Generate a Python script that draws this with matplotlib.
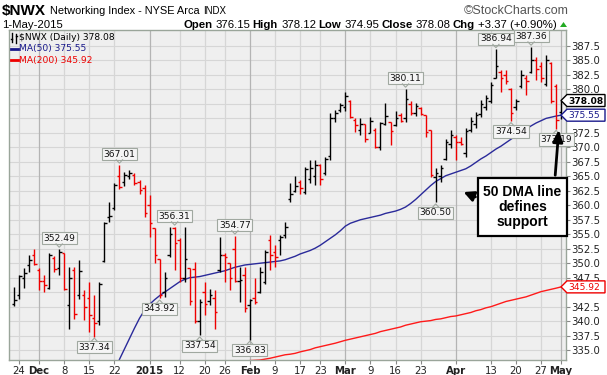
import matplotlib
matplotlib.use("Agg")
import matplotlib.pyplot as plt
import numpy as np
from matplotlib.transforms import Affine2D, ScaledTranslation
from matplotlib.patches import Polygon, Rectangle
from matplotlib.lines import Line2D

# ---------------- data ----------------
bar_idx = list(range(-1, 109))  # trading-day index, 0 = 24-Nov-2014, 108 = 1-May-2015

opens = [342.9, 344.5, 347.4, 349.7, 351.5, 348.9, 346.9, 345.8, 350.9, 349.1,
         351.7, 342.8, 348.8, 344.5, 344.5, 344.0, 340.5, 340.0, 350.3, 358.0,
         359.5, 365.0, 364.0, 365.0, 365.2, 364.0, 363.0, 360.0, 356.0, 350.8,
         345.0, 351.5, 356.0, 354.0, 347.5, 349.1, 349.0, 340.0, 345.0, 343.5,
         344.0, 348.8, 351.5, 350.0, 352.5, 347.0, 348.0, 342.8, 344.0, 345.0,
         346.8, 354.0, 352.0, 354.0, 354.8, 361.0, 362.5, 364.0, 362.3, 364.5,
         365.0, 367.0, 365.5, 368.5, 375.0, 376.5, 377.0, 378.0, 374.8, 373.0,
         374.0, 372.5, 373.0, 370.0, 374.0, 374.4, 373.8, 375.5, 375.0, 377.5,
         376.0, 376.8, 375.5, 373.0, 364.8, 365.0, 368.0, 370.5, 371.8, 371.0,
         369.0, 373.0, 374.0, 375.8, 377.0, 378.0, 382.0, 383.0, 382.5, 380.0,
         377.0, 380.5, 382.0, 383.0, 385.0, 384.0, 381.0, 384.5, 380.5, 376.15]
highs = [345.9, 347.9, 349.1, 351.4, 352.5, 349.1, 347.9, 351.7, 351.3, 352.49,
         351.7, 349.4, 349.4, 350.5, 345.3, 346.8, 344.5, 346.8, 357.2, 360.6,
         363.8, 367.01, 365.8, 366.1, 365.5, 364.4, 363.5, 361.8, 356.0, 350.8,
         348.5, 356.3, 356.31, 354.3, 356.3, 349.1, 350.2, 343.9, 346.8, 345.6,
         345.3, 354.6, 351.7, 350.0, 354.77, 349.4, 349.4, 343.9, 347.4, 349.4,
         352.3, 354.8, 353.1, 354.8, 357.1, 363.8, 365.0, 364.3, 366.6, 367.8,
         367.8, 367.2, 368.4, 375.9, 376.4, 377.6, 379.6, 378.2, 375.0, 375.0,
         374.1, 375.3, 373.3, 374.4, 377.6, 374.4, 376.3, 375.9, 380.11, 378.0,
         377.6, 377.0, 375.6, 373.0, 366.4, 367.0, 371.5, 373.0, 372.1, 371.8,
         373.3, 375.3, 376.1, 378.2, 379.0, 381.3, 386.94, 383.3, 383.3, 380.2,
         378.4, 383.3, 382.5, 387.36, 385.6, 384.8, 385.9, 384.8, 381.0, 378.12]
lows = [342.6, 343.9, 345.8, 348.5, 349.7, 345.3, 345.1, 345.6, 348.5, 347.9,
        345.3, 338.7, 340.4, 343.9, 340.2, 338.2, 337.34, 339.3, 350.2, 357.2,
        359.2, 362.8, 363.4, 364.6, 363.5, 362.0, 358.0, 354.6, 350.0, 343.92,
        344.2, 351.1, 348.8, 346.8, 346.8, 342.8, 339.6, 337.54, 341.0, 342.8,
        338.7, 348.5, 346.8, 345.3, 346.8, 343.3, 341.6, 336.83, 343.0, 344.8,
        346.5, 348.8, 349.4, 351.4, 354.3, 360.6, 362.3, 361.9, 362.0, 363.8,
        363.5, 363.5, 365.2, 367.8, 374.4, 376.1, 376.3, 375.0, 372.7, 372.1,
        371.0, 372.4, 369.8, 369.5, 373.8, 370.4, 373.6, 374.4, 374.4, 375.6,
        375.4, 375.6, 371.8, 364.9, 360.50, 364.0, 367.8, 369.8, 367.8, 370.4,
        368.4, 372.7, 373.3, 375.3, 376.4, 377.6, 381.9, 379.6, 381.0, 374.54,
        376.4, 380.2, 379.0, 382.8, 381.6, 381.3, 380.5, 377.6, 373.19, 374.95]
closes = [343.6, 347.8, 348.3, 350.6, 349.8, 346.9, 346.2, 351.4, 349.0, 352.0,
          345.6, 347.5, 341.3, 348.7, 342.5, 341.0, 339.6, 346.5, 357.0, 358.1,
          363.5, 363.1, 365.2, 365.6, 363.9, 362.6, 358.6, 356.9, 351.4, 344.5,
          347.4, 355.0, 353.5, 347.5, 350.8, 343.5, 340.0, 343.3, 342.9, 344.5,
          341.6, 351.4, 351.0, 347.4, 346.9, 347.1, 342.2, 343.6, 343.3, 348.5,
          352.0, 351.4, 351.0, 354.6, 356.2, 362.0, 363.4, 363.0, 366.2, 366.5,
          367.0, 364.5, 368.0, 375.0, 376.0, 377.3, 378.9, 375.3, 373.8, 374.0,
          371.4, 374.5, 370.1, 374.2, 375.4, 372.8, 375.0, 374.6, 378.4, 376.0,
          377.2, 375.8, 372.7, 365.2, 365.5, 366.5, 371.0, 372.2, 371.0, 370.6,
          372.8, 374.5, 375.6, 377.5, 378.5, 380.8, 384.0, 382.0, 381.5, 376.0,
          378.0, 382.5, 381.5, 385.0, 383.5, 382.0, 385.0, 378.0, 374.71, 378.08]

nan = float("nan")
ma50 = [nan] * 20 + [
    331.5, 333.4, 335.2, 337.0, 338.8, 340.5, 341.9, 342.9, 343.7, 344.4,
    345.0, 345.6, 346.2, 346.8, 347.2, 347.5, 347.6, 347.7, 347.9, 348.1,
    348.3, 348.5, 348.7, 349.0, 349.3, 349.5, 349.7, 349.8, 349.9, 350.0,
    350.1, 350.2, 350.3, 350.4, 350.6, 350.9, 351.2, 351.6, 351.9, 352.2,
    352.6, 353.1, 353.7, 354.3, 354.9, 355.6, 356.4, 356.9, 357.2, 357.5,
    357.7, 357.9, 358.1, 358.3, 358.6, 358.8, 359.0, 359.3, 359.7, 360.3,
    361.0, 361.8, 362.6, 363.4, 364.1, 364.6, 365.1, 365.4, 365.7, 366.0,
    366.3, 366.8, 367.4, 368.0, 368.5, 369.1, 369.7, 370.2, 370.8, 371.4,
    372.0, 372.5, 373.1, 373.7, 374.2, 374.6, 375.0, 375.2, 375.4, 375.55]
ma200 = [nan] * 44 + [
    332.8, 333.0, 333.1, 333.2, 333.25, 333.3, 333.45, 333.6, 333.8, 334.0,
    334.2, 334.3, 334.45, 334.7, 334.9, 335.1, 335.4, 335.6, 335.8, 336.0,
    336.2, 336.45, 336.7, 336.9, 337.1, 337.3, 337.5, 337.7, 337.9, 338.2,
    338.4, 338.6, 338.8, 339.0, 339.3, 339.5, 339.7, 339.9, 340.0, 340.1,
    340.3, 340.4, 340.6, 340.8, 340.9, 341.1, 341.3, 341.5, 341.8, 342.0,
    342.3, 342.5, 342.8, 343.1, 343.4, 343.6, 343.8, 344.0, 344.2, 344.5,
    344.8, 345.1, 345.3, 345.5, 345.7, 345.92]

tick_idx = [0, 4, 9, 14, 19, 26, 32, 37, 41, 46, 51, 56, 60, 65, 70, 75, 80, 87, 94, 99, 104, 108]
tick_lbl = ["24", "Dec", "8", "15", "22", "2015", "12", "20", "26", "Feb", "9", "17",
            "23", "Mar", "9", "16", "23", "Apr", "13", "20", "27", "May"]
month_lbl = {"Dec", "2015", "Feb", "Mar", "Apr", "May"}

hi_marks = [(8, 352.49), (20, 367.01), (31, 356.31), (43, 354.77), (77, 380.11), (95, 386.94), (102, 387.36)]
lo_marks = [(15, 337.34), (28, 343.92), (36, 337.54), (46, 336.83), (83, 360.50), (98, 374.54), (107, 373.19)]

last_close, last_ma50, last_ma200 = 378.08, 375.55, 345.92
hidden_y = {377.5, 375.0, 345.0}   # axis labels covered by the value boxes

# ---------------- figure ----------------
W, H = 607, 375
fig = plt.figure(figsize=(W / 100, H / 100), dpi=100)
fig.patch.set_facecolor("white")

L, R, T, B = 9, 566, 30, 360
ax = fig.add_axes([L / W, 1 - B / H, (R - L) / W, (B - T) / H])
ax.set_facecolor("#efefef")
ax.set_xlim(-2.0, 108.96)
ax.set_ylim(333.3, 390.25)
for s in ax.spines.values():
    s.set_color("#9aa59a")
    s.set_linewidth(1.0)

FONT = "DejaVu Sans"
yt = np.arange(335.0, 388.0, 2.5)
ax.set_yticks(yt)
ax.set_yticklabels(["" if round(v, 1) in hidden_y else "%.1f" % v for v in yt],
                   fontsize=7.3, family=FONT, color="#222222")
ax.yaxis.tick_right()
ax.tick_params(axis="y", length=3, width=0.8, color="#888888", pad=1)
for v in yt:
    ax.axhline(v, color="#d6d6d6", lw=0.8, zorder=0.5)

for i, lb in zip(tick_idx, tick_lbl):
    c = "#b4b4b4" if lb in month_lbl else "#d6d6d6"
    ax.axvline(i, color=c, lw=0.9, zorder=0.5)
ax.set_xticks(tick_idx)
ax.set_xticklabels(tick_lbl, fontsize=7.3, family=FONT, color="#222222")
for t, lb in zip(ax.get_xticklabels(), tick_lbl):
    if lb in month_lbl:
        t.set_fontweight("bold")
ax.tick_params(axis="x", length=3, width=0.8, color="#888888", pad=1.0)

# OHLC bars
tk = 0.5
prev = None
for i, o, h, l, c in zip(bar_idx, opens, highs, lows, closes):
    col = "#000000" if (prev is None or c >= prev) else "#ee0000"
    ax.vlines(i, l, h, color=col, lw=1.0, zorder=3)
    ax.hlines(o, i - tk, i, color=col, lw=1.0, zorder=3)
    ax.hlines(c, i, i + tk, color=col, lw=1.0, zorder=3)
    prev = c

ax.plot(bar_idx, ma50, color="#2a2a9a", lw=1.0, zorder=2)
ax.plot(bar_idx, ma200, color="#ff1a1a", lw=1.0, zorder=2)


def px_at(x, y):
    return Affine2D() + ScaledTranslation(x, y, ax.transData)


def mark(i, v, above):
    off = 10.5 if above else -10.5
    ax.annotate("%.2f" % v, xy=(i, v), xytext=(0, off * 0.72), textcoords="offset points",
                ha="center", va="center", fontsize=6.6, family=FONT, color="#111111", zorder=8,
                annotation_clip=False,
                bbox=dict(boxstyle="square,pad=0.18", fc="#f5f5f5", ec="#a0a8a0", lw=0.8))
    s = 1 if above else -1
    tri = Polygon([(-3.5, s * 5.3), (0, s * 1.5), (3.5, s * 5.3)], closed=False, fill=False,
                  ec="#a0a8a0", lw=0.8, transform=px_at(i, v), zorder=8, clip_on=False)
    ax.add_patch(tri)


for i, v in hi_marks:
    mark(i, v, True)
for i, v in lo_marks:
    mark(i, v, False)


def side_box(v, text, ec, tc, bold):
    tr = Affine2D() + ScaledTranslation(1.0, v, ax.get_yaxis_transform())
    poly = Polygon([(-5, 0), (1, 6), (39, 6), (39, -6), (1, -6)], closed=True,
                   fc="white", ec=ec, lw=1.0, transform=tr, zorder=20, clip_on=False)
    ax.add_patch(poly)
    ax.text(2.5, -0.5, text, transform=tr, ha="left", va="center", fontsize=6.6, family=FONT,
            color=tc, fontweight="bold" if bold else "normal", zorder=21, clip_on=False)


side_box(last_close, "%.2f" % last_close, "#000000", "#000000", True)
side_box(last_ma50, "%.2f" % last_ma50, "#1a1a8c", "#1a1a8c", False)
side_box(last_ma200, "%.2f" % last_ma200, "#ee0000", "#ee0000", False)


def fy(y):
    return H - y


pix = Affine2D()  # figure pixels

# legend inside plot
fp = dict(fontsize=6.6, family=FONT, va="center", ha="left")
fig.text(19 / W, fy(38) / H, "$NWX (Daily) %.2f" % last_close, color="#000000", **fp)
fig.text(19 / W, fy(49) / H, "MA(50) %.2f" % last_ma50, color="#1a1a8c", **fp)
fig.text(19 / W, fy(60) / H, "MA(200) %.2f" % last_ma200, color="#ee0000", **fp)
for (x0, x1, y, c) in [(11, 18, 49, "#1a1a8c"), (11, 18, 60, "#ee0000")]:
    fig.add_artist(Line2D([x0, x1], [fy(y), fy(y)], color=c, lw=2.0, transform=pix))
for xs, ys in [([12, 12], [33, 42]), ([11, 12], [39, 39]), ([16, 16], [34, 43]), ([16, 17], [36, 36])]:
    fig.add_artist(Line2D(xs, [fy(y) for y in ys], color="#000000", lw=1.0, transform=pix))

# header texts
LS = "Liberation Sans"
fig.text(2 / W, fy(11) / H, "$NWX", fontsize=11, fontweight="bold", family=LS, va="center")
fig.text(50 / W, fy(11) / H, "Networking Index - NYSE Arca", fontsize=7.9, family=LS, va="center")
fig.text(203 / W, fy(11.5) / H, "INDX", fontsize=7.0, family=LS, va="center")
fig.text(569 / W, fy(11) / H, "\u00a9StockCharts.com", fontsize=9, family=LS, va="center",
         ha="right", color="#555555")
fig.text(2 / W, fy(24.5) / H, "1-May-2015", fontsize=8.2, family=LS, va="center")

row = [("Open", True), ("376.15", False), ("High", True), ("378.12", False),
       ("Low", True), ("374.95", False), ("Close", True), ("378.08", False),
       ("Chg", True), ("+3.37 (+0.90%)", False)]
renderer = fig.canvas.get_renderer()
fs = 8.2
texts = []
for s, b in row:
    t = fig.text(0, fy(24.5) / H, s, fontsize=fs, family=LS, va="center",
                 fontweight="bold" if b else "normal")
    texts.append(t)
widths = [t.get_window_extent(renderer).width for t in texts]
x0, x1 = 183.0, 557.0
gap_small = 3.5
n_big = 4
total = sum(widths) + gap_small * 5
gap_big = (x1 - x0 - total) / n_big
x = x0
for k, (t, w) in enumerate(zip(texts, widths)):
    t.set_x(x / W)
    x += w + (gap_small if k % 2 == 0 else gap_big)
fig.add_artist(Polygon([(560, fy(27)), (567, fy(27)), (563.5, fy(22))], closed=True,
                       fc="#22aa22", ec="none", transform=pix))

# callout box and arrows
fig.add_artist(Rectangle((478, fy(236)), 89, 58, fc="white", ec="black", lw=1.6, transform=pix, zorder=30))
fig.text(522.5 / W, fy(207) / H, "50 DMA line\ndefines\nsupport", fontsize=10, fontweight="bold",
         family=LS, ha="center", va="center", linespacing=1.05, zorder=31)
ax.annotate("", xy=(559, fy(127)), xytext=(555, fy(178)), xycoords="figure pixels",
            textcoords="figure pixels", zorder=32, annotation_clip=False,
            arrowprops=dict(arrowstyle="-|>,head_length=0.7,head_width=0.3", color="black", lw=2.0))
ax.annotate("", xy=(461, fy(191)), xytext=(478, fy(198)), xycoords="figure pixels",
            textcoords="figure pixels", zorder=32, annotation_clip=False,
            arrowprops=dict(arrowstyle="-|>,head_length=0.6,head_width=0.3", color="black", lw=2.0))

fig.savefig("out.png", dpi=100)
